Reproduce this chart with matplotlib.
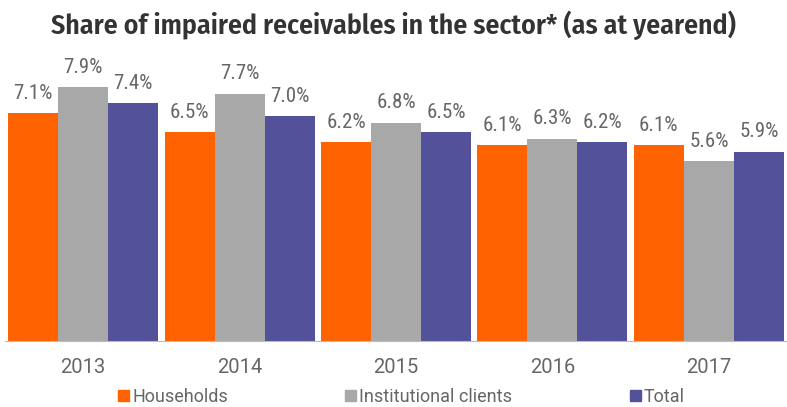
import matplotlib
matplotlib.use("Agg")
import matplotlib.pyplot as plt
import numpy as np
from matplotlib.patches import Patch

years = ["2013", "2014", "2015", "2016", "2017"]
households = [7.1, 6.5, 6.2, 6.1, 6.1]
institutional = [7.9, 7.7, 6.8, 6.3, 5.6]
total = [7.4, 7.0, 6.5, 6.2, 5.9]
series_names = ["Households", "Institutional clients", "Total"]
colors = ["#FF6200", "#A8A8A8", "#525199"]

plt.rcParams['font.family'] = ['Roboto', 'DejaVu Sans']

W, H = 787, 407
fig = plt.figure(figsize=(W/100, H/100), dpi=100)
ax = fig.add_axes([5/W, (H-341)/H, 782/W, (341-40)/H])

x = np.arange(len(years))
w = 0.32
for i, (vals, c) in enumerate(zip([households, institutional, total], colors)):
    pos = x + (i-1)*w
    ax.bar(pos, vals, width=w, color=c, zorder=2)
    for p, v in zip(pos, vals):
        ax.text(p, v + 0.45, f"{v:.1f}%", ha='center', va='baseline', fontsize=15,
                color='#666666', fontweight='normal',
                family=['Roboto Condensed', 'DejaVu Sans'])

ax.set_xlim(-0.5, 4.5)
ax.set_ylim(0, 301/32.1)
ax.set_yticks([])
ax.set_xticks(x)
ax.set_xticklabels(years, fontsize=14.5, color='#666666', fontweight='normal')
ax.tick_params(axis='x', length=0, pad=12)
for s in ['top', 'right', 'left']:
    ax.spines[s].set_visible(False)
ax.spines['bottom'].set_color('#BBBBBB')

fig.text(0.5, 1-34/H, "Share of impaired receivables in the sector* (as at yearend)",
         ha='center', va='baseline', fontsize=20, fontweight='semibold', color='#333333',
         family=['Fira Sans Condensed', 'DejaVu Sans'])

handles = [Patch(color=c) for c in colors]
leg = fig.legend(handles, series_names, loc='center', bbox_to_anchor=(401.5/W, 1-397/H), ncol=3,
                 frameon=False, prop={'size': 13, 'weight': 'normal'}, handlelength=0.6, handleheight=0.6,
                 handletextpad=0.17, columnspacing=6.5, borderaxespad=0, borderpad=0)
for t in leg.get_texts():
    t.set_color('#666666')

fig.savefig("out.png", dpi=100)
